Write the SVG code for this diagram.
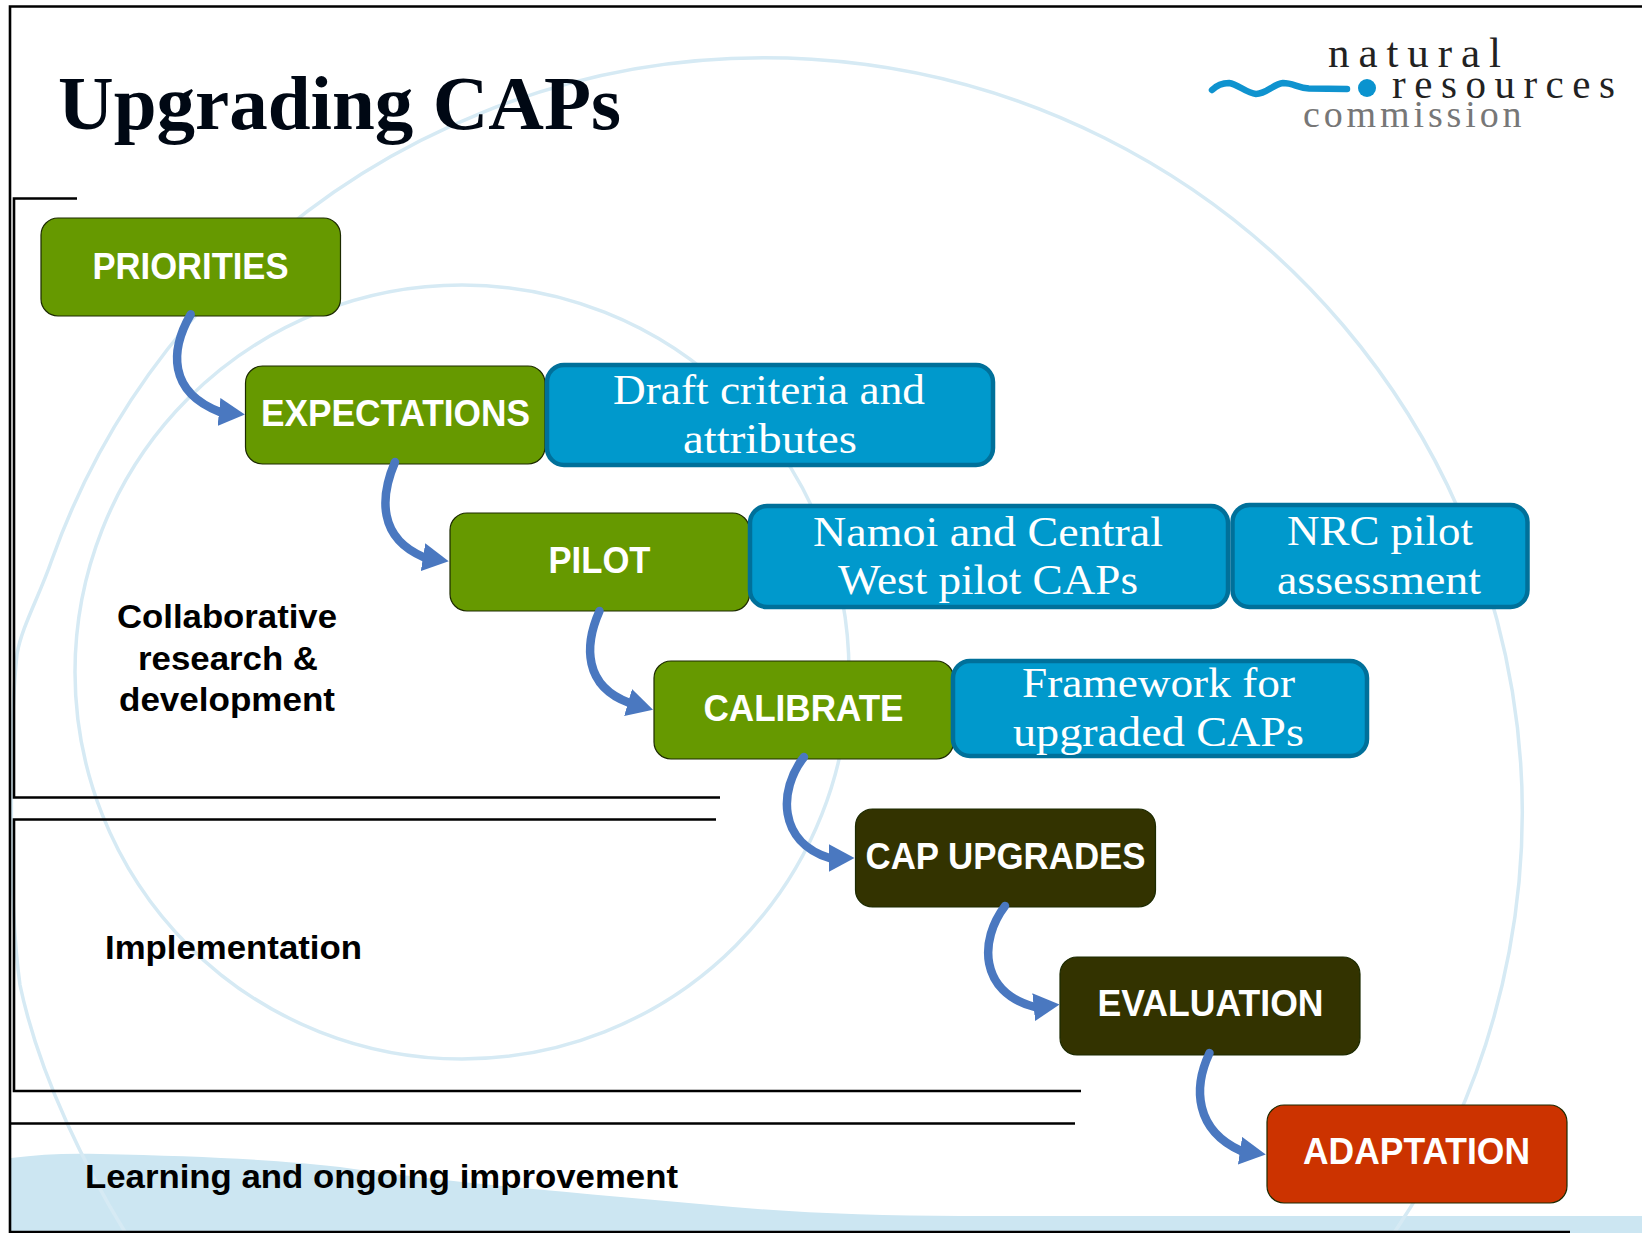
<svg xmlns="http://www.w3.org/2000/svg" width="1642" height="1233" viewBox="0 0 1642 1233">
<style>
.ring{fill:none;stroke:#d6eaf4;stroke-width:3.5}
.frame{fill:none;stroke:#000;stroke-width:2.6}
.node{stroke:#1c2a00;stroke-width:1.2}
.g{fill:#669900}.d{fill:#333300}.r{fill:#cc3300}
.b{fill:#0099cc;stroke:#00709a;stroke-width:4.5}
.lab{font-family:"Liberation Sans",Arial,sans-serif;font-weight:700;font-size:36px;fill:#fff}
.sub{font-family:"Liberation Serif","Times New Roman",serif;font-size:43px;fill:#fff}
.blk{font-family:"Liberation Sans",Arial,sans-serif;font-weight:700;font-size:34px;fill:#000}
.logo{font-family:"Liberation Serif","Times New Roman",serif;fill:#222}
.arrow{fill:none;stroke:#4a78c0;stroke-width:8.500;stroke-linecap:round;marker-end:url(#head)}
</style>
<defs>
<marker id="head" markerUnits="userSpaceOnUse" markerWidth="27" markerHeight="28" refX="2" refY="14" orient="auto" viewBox="0 0 27 28">
<path d="M0,0 L26,14 L0,28 Z" fill="#4a78c0"/>
</marker>
</defs>
<rect width="1642" height="1233" fill="#fff"/>
<g id="background">
<path d="M11,1158 C40,1154 70,1153 100,1154 C200,1156 280,1160 340,1167 C450,1183 600,1195 733,1207 C800,1213 880,1216 960,1216 L1642,1216 L1642,1233 L11,1233 Z" fill="#cce6f2"/>
<circle class="ring" cx="462" cy="672" r="387"/>
<path class="ring" d="M125,1232 C90,1175 40,1080 20,985 C8,900 10,720 17,654 C22,626 39,597 51.800,560 A757,755 0 1 1 1394.700,1232"/>
</g>
<g id="frame">
<path class="frame" d="M1642,6.500 L10,6.500 L10,1232 L1570,1232"/>
<path class="frame" d="M77,198.500 L14,198.500 L14,797.500 L720,797.500"/>
<path class="frame" d="M716,819.500 L14,819.500 L14,1091 L1081,1091"/>
<path class="frame" d="M11,1123.500 L1075,1123.500"/>
</g>
<g id="title">
<text x="58" y="129" font-family="'Liberation Serif','Times New Roman',serif" font-weight="700" font-size="76" fill="#000814" textLength="563" lengthAdjust="spacingAndGlyphs">Upgrading CAPs</text>
</g>
<g id="logo">
<path d="M1212,90 C1217,85 1222,83 1229,83 C1238,84 1246,93 1256,94 C1267,94 1273,84 1283,83 C1293,83 1298,88 1309,88.500 L1347,89" fill="none" stroke="#0f93cf" stroke-width="6.500" stroke-linecap="round"/>
<circle cx="1367" cy="88" r="9" fill="#0a93cf"/>
<text class="logo" font-size="43" x="1328" y="67" textLength="173">natural</text>
<text class="logo" font-size="41" x="1392" y="97.500" textLength="223">resources</text>
<text class="logo" font-size="38" x="1303" y="126.500" textLength="218.500" style="fill:#777">commission</text>
</g>
<g id="priorities"><rect class="node g" x="41" y="218" width="299.500" height="98" rx="17"/><text class="lab" x="92.500" y="278.500" textLength="196" lengthAdjust="spacingAndGlyphs">PRIORITIES</text></g>
<g id="expectations"><rect class="node g" x="245.500" y="366" width="299.500" height="98" rx="17"/><text class="lab" x="261" y="425.500" textLength="269" lengthAdjust="spacingAndGlyphs">EXPECTATIONS</text></g>
<g id="pilot"><rect class="node g" x="450" y="513" width="299.500" height="98" rx="17"/><text class="lab" x="548.500" y="573" textLength="102" lengthAdjust="spacingAndGlyphs">PILOT</text></g>
<g id="calibrate"><rect class="node g" x="654" y="661" width="299.500" height="98" rx="17"/><text class="lab" x="703.500" y="720.500" textLength="200" lengthAdjust="spacingAndGlyphs">CALIBRATE</text></g>
<g id="cap-upgrades"><rect class="node d" x="855.500" y="809" width="300" height="98" rx="17"/><text class="lab" x="865.500" y="868.500" textLength="280" lengthAdjust="spacingAndGlyphs">CAP UPGRADES</text></g>
<g id="evaluation"><rect class="node d" x="1060" y="957" width="300" height="98" rx="17"/><text class="lab" x="1097.500" y="1016" textLength="226" lengthAdjust="spacingAndGlyphs">EVALUATION</text></g>
<g id="adaptation"><rect class="node r" x="1267" y="1105" width="300" height="98" rx="17"/><text class="lab" x="1303" y="1163.500" textLength="227" lengthAdjust="spacingAndGlyphs">ADAPTATION</text></g>
<g id="draft"><rect class="b" x="547" y="365" width="446" height="100" rx="17"/><text class="sub" x="613" y="404" textLength="312" lengthAdjust="spacingAndGlyphs">Draft criteria and</text><text class="sub" x="683" y="452.500" textLength="174" lengthAdjust="spacingAndGlyphs">attributes</text></g>
<g id="namoi"><rect class="b" x="750" y="506" width="478" height="101" rx="17"/><text class="sub" x="813" y="545.500" textLength="350" lengthAdjust="spacingAndGlyphs">Namoi and Central</text><text class="sub" x="838" y="594" textLength="300" lengthAdjust="spacingAndGlyphs">West pilot CAPs</text></g>
<g id="nrc"><rect class="b" x="1232.500" y="505" width="295" height="102" rx="17"/><text class="sub" x="1287" y="545" textLength="186" lengthAdjust="spacingAndGlyphs">NRC pilot</text><text class="sub" x="1277" y="594" textLength="204" lengthAdjust="spacingAndGlyphs">assessment</text></g>
<g id="framework"><rect class="b" x="953" y="661" width="414" height="95" rx="17"/><text class="sub" x="1022" y="696.500" textLength="273" lengthAdjust="spacingAndGlyphs">Framework for</text><text class="sub" x="1013" y="745.500" textLength="291" lengthAdjust="spacingAndGlyphs">upgraded CAPs</text></g>
<g id="band-labels">
<text class="blk" x="117" y="628" textLength="220" lengthAdjust="spacingAndGlyphs">Collaborative</text>
<text class="blk" x="138" y="670" textLength="180" lengthAdjust="spacingAndGlyphs">research &amp;</text>
<text class="blk" x="119" y="711" textLength="216" lengthAdjust="spacingAndGlyphs">development</text>
<text class="blk" x="105" y="959" textLength="257" lengthAdjust="spacingAndGlyphs">Implementation</text>
<text class="blk" x="85" y="1188" textLength="593" lengthAdjust="spacingAndGlyphs">Learning and ongoing improvement</text>
</g>
<g id="connectors">
<path class="arrow" d="M190.700,314.300 C170,350 168,392 220,412 l1,0.100"/>
<path class="arrow" d="M395,462 C380,497 378,538 424,557.300 l1,0.160"/>
<path class="arrow" d="M599.500,611 C584,646 584,686 629,702.700 l1,0.290"/>
<path class="arrow" d="M804,757 C778,790 778,842 829.500,858 l1,0"/>
<path class="arrow" d="M1005,906 C979,940 979,992 1034.700,1007 l1,-0.100"/>
<path class="arrow" d="M1209.500,1053 C1193,1088 1195,1130 1241,1150.900 l1,0.150"/>
</g>
</svg>
